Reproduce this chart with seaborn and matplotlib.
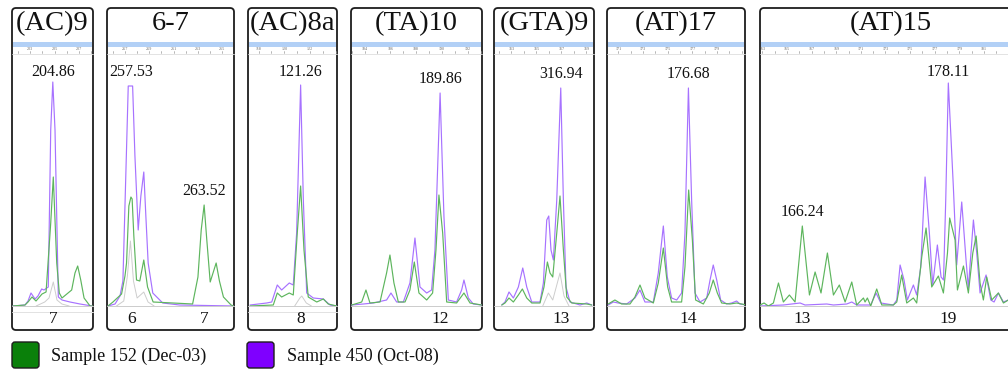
import numpy as np
import matplotlib
matplotlib.use("Agg")
import matplotlib.pyplot as plt
import seaborn as sns
from matplotlib.patches import FancyBboxPatch, Rectangle
from matplotlib.transforms import IdentityTransform

sns.set_theme(style="white")
plt.rcParams["font.family"] = ["Liberation Serif", "DejaVu Serif"]

# ---------------- data ----------------
TITLES = ["(AC)9", "6-7", "(AC)8a", "(TA)10", "(GTA)9", "(AT)17", "(AT)15"]
BP_RANGES = [(201.53, 208.14), (255.52, 265.98), (117.18, 124.08), (182.95, 193.11),
             (311.60, 319.60), (170.09, 181.26), (162.80, 184.10)]
RULER_START = [203, 257, 118, 184, 313, 171, 163]
PEAK_CALLS = [[204.86], [257.53, 263.52], [121.26], [189.86], [316.94], [176.68], [166.24, 178.11]]
ALLELES = [["7"], ["6", "7"], ["8"], ["12"], ["13"], ["14"], ["13", "19"]]

# Panel 1 (AC)9
P1_PUR_BP = [201.59, 202.59, 202.84, 203.08, 203.41, 203.65, 203.95, 204.14, 204.49, 204.69, 204.86, 205.04, 205.31, 205.61, 206.26, 207.08, 208.06]
P1_PUR_H = [0, 1, 5, 13, 7, 10, 17, 16, 19, 176, 224, 176, 9, 6, 4, 2, 0]
P1_GRN_BP = [201.59, 202.59, 202.84, 203.16, 203.49, 203.98, 204.31, 204.69, 204.90, 205.18, 205.39, 205.61, 206.40, 206.67, 206.89, 207.14, 207.41, 207.90, 208.12]
P1_GRN_H = [0, 1, 4, 9, 5, 12, 14, 83, 129, 43, 13, 8, 16, 33, 40, 26, 8, 0, 0]
P1_GRY_BP = [203.5, 204.2, 204.55, 204.9, 205.2, 205.6, 206.2]
P1_GRY_H = [0, 4, 8, 24, 6, 2, 0]

# Panel 2 6-7
P2_PUR_BP = [255.60, 256.18, 256.59, 256.83, 257.00, 257.27, 257.63, 257.82, 258.09, 258.31, 258.55, 258.72, 258.91, 259.29, 260.11, 261.50, 265.93]
P2_PUR_H = [0, 2, 10, 25, 100, 220, 220, 150, 76, 110, 134, 90, 43, 13, 3, 1, 0]
P2_GRN_BP = [255.60, 256.01, 256.72, 257.00, 257.13, 257.32, 257.49, 257.59, 257.73, 257.95, 258.22, 258.55, 258.86, 259.32, 262.57, 263.01, 263.28, 263.52, 263.74, 264.02, 264.51, 264.78, 265.11, 265.74, 265.93]
P2_GRN_H = [0, 4, 12, 30, 43, 100, 109, 107, 70, 26, 25, 46, 19, 4, 2, 29, 76, 101, 66, 24, 43, 25, 9, 1, 0]
P2_GRY_BP = [256.3, 256.9, 257.2, 257.45, 257.7, 258.0, 258.55, 258.9, 259.4]
P2_GRY_H = [0, 5, 30, 65, 25, 8, 14, 4, 0]

# Panel 3 (AC)8a
P3_PUR_BP = [117.34, 118.63, 119.02, 119.45, 119.79, 120.38, 120.69, 120.95, 121.26, 121.47, 121.73, 122.24, 123.02, 123.54, 124.06]
P3_PUR_H = [1, 3, 4, 21, 16, 23, 21, 73, 221, 106, 13, 8, 7, 1, 0]
P3_GRN_BP = [117.34, 119.14, 119.45, 119.79, 120.38, 120.69, 121.00, 121.26, 121.52, 121.85, 122.51, 123.02, 123.40, 124.06]
P3_GRN_H = [0, 1, 13, 9, 13, 11, 73, 120, 56, 9, 4, 7, 2, 0]
P3_GRY_BP = [120.8, 121.2, 121.35, 121.7, 122.1]
P3_GRY_H = [0, 8, 10, 3, 0]

# Panel 4 (TA)10
P4_PUR_BP = [183.00, 183.91, 184.68, 185.71, 186.05, 186.49, 187.01, 187.52, 187.91, 188.30, 188.82, 189.20, 189.46, 189.86, 190.16, 190.50, 191.14, 191.53, 191.71, 192.05, 192.43, 193.08]
P4_PUR_H = [1, 2, 3, 6, 13, 4, 4, 23, 68, 19, 13, 16, 56, 213, 89, 6, 4, 16, 26, 8, 2, 1]
P4_GRN_BP = [183.00, 183.78, 184.11, 184.42, 185.20, 185.71, 185.97, 186.28, 186.62, 187.14, 187.52, 187.86, 188.22, 188.82, 189.28, 189.54, 189.77, 190.06, 190.37, 191.14, 191.71, 192.18, 193.08]
P4_GRN_H = [1, 4, 16, 3, 4, 33, 51, 23, 4, 4, 16, 44, 13, 6, 13, 56, 111, 73, 4, 3, 13, 3, 1]

# Panel 5 (GTA)9
P5_PUR_BP = [312.22, 312.48, 312.80, 313.15, 313.55, 313.90, 314.22, 314.62, 315.28, 315.55, 315.82, 315.98, 316.16, 316.35, 316.62, 316.94, 317.15, 317.36, 317.68, 318.48, 319.02, 319.42]
P5_PUR_H = [1, 4, 14, 8, 19, 38, 19, 4, 4, 23, 86, 90, 56, 46, 106, 218, 106, 19, 4, 1, 3, 1]
P5_GRN_BP = [312.22, 312.48, 312.80, 313.15, 313.55, 313.87, 314.22, 314.62, 315.28, 315.60, 315.87, 316.08, 316.30, 316.62, 316.88, 317.15, 317.42, 317.82, 319.02, 319.42]
P5_GRN_H = [1, 3, 8, 4, 11, 17, 8, 3, 3, 19, 44, 33, 29, 73, 110, 56, 9, 3, 2, 1]
P5_GRY_BP = [315.5, 315.95, 316.3, 316.88, 317.2, 317.6]
P5_GRY_H = [0, 13, 6, 33, 10, 0]

# Panel 6 (AT)17
P6_PUR_BP = [170.19, 170.60, 171.00, 171.68, 172.35, 172.76, 173.16, 173.84, 174.24, 174.65, 174.97, 175.32, 175.73, 176.13, 176.40, 176.68, 176.94, 177.21, 177.62, 178.16, 178.43, 178.69, 178.97, 179.29, 179.77, 180.18, 180.58, 180.85, 181.39]
P6_PUR_H = [1, 4, 3, 2, 8, 16, 4, 4, 33, 80, 29, 8, 6, 13, 73, 218, 106, 13, 4, 8, 26, 41, 26, 6, 2, 3, 5, 2, 1]
P6_GRN_BP = [170.19, 170.73, 171.27, 171.95, 172.35, 172.76, 173.16, 173.84, 174.24, 174.65, 175.00, 175.32, 176.13, 176.40, 176.70, 177.00, 177.26, 177.89, 178.37, 178.69, 179.02, 179.37, 180.04, 180.58, 181.39]
P6_GRN_H = [2, 6, 2, 2, 9, 21, 8, 3, 23, 58, 19, 4, 4, 39, 116, 66, 6, 2, 13, 26, 13, 3, 2, 3, 1]

# Panel 7 (AT)15
P7_PUR_BP = [162.80, 164.70, 166.06, 166.46, 168.23, 168.77, 169.85, 170.26, 170.66, 171.80, 172.24, 172.62, 173.64, 173.92, 174.19, 174.51, 174.78, 175.27, 175.54, 175.87, 176.22, 176.57, 176.84, 177.22, 177.52, 177.72, 177.90, 178.11, 178.52, 178.79, 179.20, 179.55, 179.74, 180.15, 180.42, 180.69, 181.18, 181.56, 181.83, 182.18, 182.59, 182.99, 183.50]
P7_PUR_H = [0, 1, 3, 1, 2, 1, 2, 4, 1, 1, 13, 3, 1, 6, 41, 26, 6, 21, 11, 39, 129, 73, 21, 61, 29, 26, 106, 223, 119, 41, 104, 46, 18, 86, 53, 13, 31, 6, 4, 13, 4, 6, 2]
P7_GRN_BP = [162.80, 163.13, 163.48, 163.89, 164.30, 164.70, 165.19, 165.65, 166.24, 166.82, 167.28, 167.76, 168.28, 168.77, 169.25, 169.72, 170.26, 170.66, 171.21, 171.34, 171.53, 171.80, 172.29, 172.70, 173.64, 173.92, 174.32, 174.73, 175.27, 175.54, 175.95, 176.30, 176.76, 177.30, 177.71, 178.04, 178.22, 178.66, 178.85, 179.34, 179.74, 180.10, 180.37, 180.69, 180.96, 181.23, 181.64, 182.18, 182.59, 182.99, 183.50]
P7_GRN_H = [1, 3, 0, 3, 23, 4, 11, 4, 80, 11, 34, 13, 53, 11, 21, 4, 24, 1, 8, 4, 8, 0, 17, 1, 1, 4, 31, 3, 8, 3, 49, 78, 19, 30, 13, 53, 88, 66, 16, 40, 13, 53, 70, 23, 6, 29, 6, 13, 3, 6, 2]

PURPLE = [(P1_PUR_BP, P1_PUR_H), (P2_PUR_BP, P2_PUR_H), (P3_PUR_BP, P3_PUR_H), (P4_PUR_BP, P4_PUR_H),
          (P5_PUR_BP, P5_PUR_H), (P6_PUR_BP, P6_PUR_H), (P7_PUR_BP, P7_PUR_H)]
GREEN = [(P1_GRN_BP, P1_GRN_H), (P2_GRN_BP, P2_GRN_H), (P3_GRN_BP, P3_GRN_H), (P4_GRN_BP, P4_GRN_H),
         (P5_GRN_BP, P5_GRN_H), (P6_GRN_BP, P6_GRN_H), (P7_GRN_BP, P7_GRN_H)]
GRAY = [(P1_GRY_BP, P1_GRY_H), (P2_GRY_BP, P2_GRY_H), (P3_GRY_BP, P3_GRY_H), None,
        (P5_GRY_BP, P5_GRY_H), None, None]

LEGEND_LABELS = ["Sample 152 (Dec-03)", "Sample 450 (Oct-08)"]

# ---------------- layout / style ----------------
W, H = 1008, 372
BOX_X = [(12, 93), (107, 234), (248, 337), (351, 482), (494, 594), (607, 745), (760, 1022)]
BOX_TOP, BOX_BOT = 8, 330
PLOT_TOP, BASE = 56, 306
C_PUR_LINE = "#a772ff"
C_GRN_LINE = "#5db55d"
C_GRAY_LINE = "#cdcdcd"
C_BAND = "#b2d0f6"
C_EDGE = "#1c1c1c"

fig = plt.figure(figsize=(W / 100, H / 100), dpi=100)
fig.patch.set_facecolor("white")
ident = IdentityTransform()


def ax_frac(ypx):
    return (BASE - ypx) / (BASE - PLOT_TOP)


for i in range(len(TITLES)):
    x0, x1 = BOX_X[i]
    box = FancyBboxPatch((x0, H - BOX_BOT), x1 - x0, BOX_BOT - BOX_TOP,
                         boxstyle="round,pad=0,rounding_size=4", transform=ident,
                         fc="white", ec=C_EDGE, lw=1.3, zorder=-2)
    fig.add_artist(box)
    band = Rectangle((x0 + 0.8, H - 47), x1 - x0 - 1.6, 5, transform=ident,
                     fc=C_BAND, ec="none", zorder=-1)
    fig.add_artist(band)

    ax = fig.add_axes([x0 / W, 1 - BASE / H, (x1 - x0) / W, (BASE - PLOT_TOP) / H])
    ax.set_xlim(*BP_RANGES[i])
    ax.set_ylim(0, BASE - PLOT_TOP)
    ax.axis("off")
    xt = ax.get_xaxis_transform()

    # title
    fig.text((x0 + x1) / 2 / W, 1 - 24 / H, TITLES[i], ha="center", va="center",
             fontsize=20.5, color="#111111")

    # ruler
    lo, hi = BP_RANGES[i]
    px_per_bp = (x1 - x0) / (hi - lo)
    vis_hi = lo + (min(x1, W) - x0 - 6) / px_per_bp
    for t in np.arange(np.ceil(lo), hi, 1.0):
        ax.plot([t, t], [ax_frac(51), ax_frac(52.6)], transform=xt, color="#9a9a9a",
                lw=0.5, clip_on=False)
    for t in np.arange(RULER_START[i], vis_hi, 2):
        ax.text(t, ax_frac(48.8), f"{int(t)}", transform=xt, ha="center", va="center",
                fontsize=3.0, color="#666666", clip_on=False)
    ax.plot([lo, hi], [ax_frac(53.5)] * 2, transform=xt, color="#dedede", lw=0.6, clip_on=False)

    # baseline lines
    ax.plot([lo, hi], [ax_frac(BASE)] * 2, transform=xt, color="#cccccc", lw=0.7, clip_on=False)
    if i in (0, 2):
        ax.plot([lo, hi], [ax_frac(312)] * 2, transform=xt, color="#e2e2e2", lw=0.7, clip_on=False)

    # traces
    if GRAY[i] is not None:
        sns.lineplot(x=GRAY[i][0], y=GRAY[i][1], ax=ax, color=C_GRAY_LINE, lw=0.7,
                     estimator=None, sort=False, legend=False)
    sns.lineplot(x=PURPLE[i][0], y=PURPLE[i][1], ax=ax, color=C_PUR_LINE, lw=0.85,
                 estimator=None, sort=False, legend=False)
    sns.lineplot(x=GREEN[i][0], y=GREEN[i][1], ax=ax, color=C_GRN_LINE, lw=0.85,
                 estimator=None, sort=False, legend=False)
    ax.axis("off")

    # peak size labels and allele calls
    for v, al in zip(PEAK_CALLS[i], ALLELES[i]):
        top = max(np.interp(v, PURPLE[i][0], PURPLE[i][1]), np.interp(v, GREEN[i][0], GREEN[i][1]))
        ly = min(top + 14, BASE - 72)
        ax.text(v, ly, f"{v:.2f}", ha="center", va="center", fontsize=11.5, color="#111111",
                clip_on=False)
        ax.text(v, ax_frac(319), al, transform=xt, ha="center", va="center", fontsize=12.5,
                color="#111111", clip_on=False)

# legend
for (sx, tx), col, lab in zip([(12, 51), (247, 287)], ["#0a800a", "#7f00ff"], LEGEND_LABELS):
    sq = FancyBboxPatch((sx, H - 368), 27, 26, boxstyle="round,pad=0,rounding_size=3",
                        transform=ident, fc=col, ec=C_EDGE, lw=1.0)
    fig.add_artist(sq)
    fig.text(tx / W, 1 - 356 / H, lab, ha="left", va="center", fontsize=13, color="#111111")

fig.savefig("out.png", dpi=100, facecolor="white")
